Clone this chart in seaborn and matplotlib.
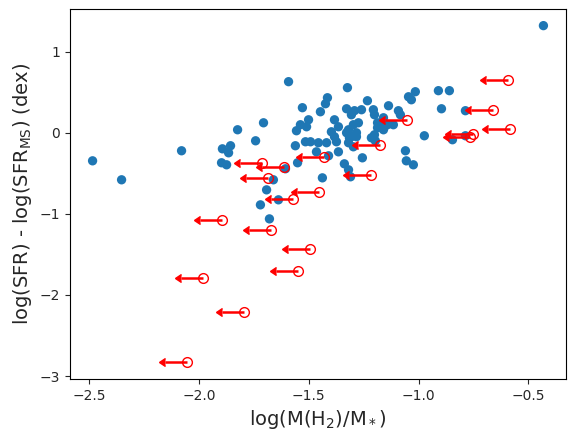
import numpy as np
import matplotlib
matplotlib.use("Agg")
import matplotlib.pyplot as plt
import seaborn as sns

# detections: log(M(H2)/M*) and offset from main sequence
gas_frac = [-2.484, -2.352, -2.079, -1.893, -1.856, -1.865, -1.897, -1.874, -1.824, -1.742,
            -1.706, -1.592, -1.606, -1.661, -1.692, -1.638, -1.720, -1.679, -1.551, -1.529,
            -1.447, -1.501, -1.538, -1.556, -1.510, -1.561, -1.515, -1.492, -1.456, -1.465,
            -1.438, -0.432, -0.910, -0.860, -0.896, -0.787, -0.974, -0.787, -0.846, -1.060,
            -1.056, -1.024, -1.015, -1.046, -1.033, -1.092, -1.083, -1.137, -1.233, -1.324,
            -1.415, -1.424, -1.328, -1.292, -1.306, -1.260, -1.206, -1.201, -1.160, -1.115,
            -1.187, -1.156, -1.201, -1.215, -1.197, -1.383, -1.365, -1.397, -1.383, -1.297,
            -1.274, -1.319, -1.306, -1.283, -1.319, -1.297, -1.419, -1.410, -1.365, -1.256,
            -1.338, -1.319, -1.310, -1.374, -1.328, -1.283, -1.315, -1.142, -1.187, -1.160]
delta_ms = [-0.346, -0.580, -0.222, -0.198, -0.160, -0.247, -0.370, -0.395, 0.037, -0.099,
            0.123, 0.630, -0.444, -0.580, -0.704, -0.827, -0.889, -1.062, -0.370, 0.309,
            0.259, 0.160, 0.099, 0.025, 0.074, -0.160, -0.111, -0.111, -0.123, -0.235,
            -0.556, 1.321, 0.519, 0.519, 0.296, 0.272, -0.037, -0.037, -0.086, -0.222,
            -0.346, -0.395, 0.506, 0.444, 0.407, 0.272, 0.222, 0.333, 0.395, 0.556,
            0.432, 0.358, 0.296, 0.272, 0.222, 0.284, 0.284, 0.222, 0.185, 0.099,
            0.123, 0.074, -0.025, -0.062, -0.099, 0.160, 0.074, 0.012, -0.049, 0.099,
            0.123, 0.037, -0.049, -0.049, -0.123, -0.173, -0.123, -0.284, -0.235, -0.309,
            -0.383, -0.457, -0.543, -0.111, 0.000, 0.000, -0.062, 0.099, 0.062, 0.037]

# non-detections (upper limits on gas fraction)
lim_frac = [-1.712, -1.615, -1.685, -1.574, -1.893, -1.674, -1.495, -1.547, -1.980, -1.794,
            -2.053, -0.595, -0.663, -0.584, -0.751, -0.764, -1.052, -1.174, -1.219, -1.430,
            -1.453]
lim_delta = [-0.374, -0.428, -0.559, -0.815, -1.078, -1.198, -1.428, -1.704, -1.786, -2.210,
             -2.827, 0.654, 0.284, 0.049, -0.012, -0.058, 0.152, -0.157, -0.527, -0.305,
             -0.735]

sns.set_style("ticks")
plt.rcParams['font.family'] = ['DejaVu Sans']

fig, ax = plt.subplots(figsize=(5.74, 4.41), dpi=100)
fig.subplots_adjust(left=0.122, right=0.986, top=0.980, bottom=0.141)

sns.scatterplot(x=gas_frac, y=delta_ms, ax=ax, color='#1f77b4', s=45,
                edgecolor='none', linewidth=0)
ax.errorbar(lim_frac, lim_delta, xerr=0.1, xuplims=True, fmt='o', color='red',
            mfc='none', ms=7, elinewidth=1.8)

ax.set_xlabel(r'log(M(H$_2$)/M$_*$)', fontsize=14)
ax.set_ylabel(r'log(SFR) - log(SFR$_{\rm MS}$) (dex)', fontsize=14)
ax.set_xticks([-2.5, -2.0, -1.5, -1.0, -0.5])
ax.set_yticks([-3, -2, -1, 0, 1])
ax.tick_params(labelsize=10)
for s in ax.spines.values():
    s.set_visible(True)
    s.set_color('black')

fig.savefig('out.png', dpi=100)
